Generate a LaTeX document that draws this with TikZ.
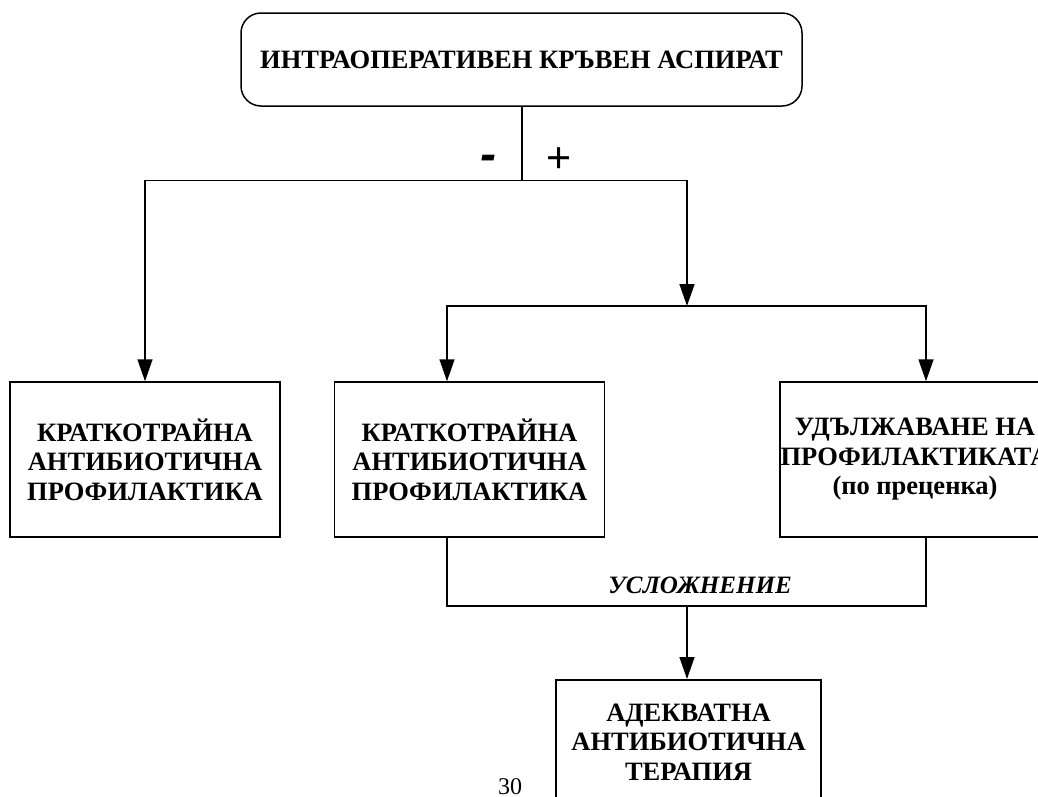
\documentclass[tikz,border=0pt]{standalone}
\usepackage{fontspec}
\setmainfont{Liberation Serif}
\newfontfamily\signfont{Liberation Sans}
\usetikzlibrary{arrows.meta,positioning}

\tikzset{
  block/.style={draw, line width=1.5pt, minimum width=270pt, minimum height=155pt,
    align=center, inner sep=0pt, font=\fontsize{26.5}{29.5}\selectfont\bfseries},
  flow/.style={line width=1.5pt},
  arr/.style={flow, -{Triangle[length=22pt,width=15pt]}},
}

\begin{document}
\begin{tikzpicture}[x=1pt, y=-1pt, line join=miter]
  \useasboundingbox (0,0) rectangle (1038,796);
  \clip (0,0) rectangle (1038,796);

  % source box
  \node[block, rounded corners=20pt, minimum width=561pt, minimum height=93pt]
        (aspirate) at (521.5,59.5) {ИНТРАОПЕРАТИВЕН КРЪВЕН АСПИРАТ};

  % outcome boxes
  \node[block] (shortneg) at (145,459.5)   {КРАТКОТРАЙНА\\АНТИБИОТИЧНА\\ПРОФИЛАКТИКА};
  \node[block] (shortpos) at (469.5,459.5) {КРАТКОТРАЙНА\\АНТИБИОТИЧНА\\ПРОФИЛАКТИКА};
  \node[block] (extend)   at (915,459.5)   {УДЪЛЖАВАНЕ НА\\ПРОФИЛАКТИКАТА\\(по преценка)};
  \node[block, anchor=north, minimum width=265pt, minimum height=0pt,
        inner ysep=24pt, text depth=80pt]
        (therapy) at (688.5,679) {АДЕКВАТНА\\АНТИБИОТИЧНА\\ТЕРАПИЯ};

  % branch points
  \coordinate (fork)  at (522,180.5);
  \coordinate (split) at (687,306);
  \coordinate (compl) at (687,606);
  \path (shortpos.north) ++(-22.5,0) coordinate (posin);
  \path (shortpos.south) ++(-22.5,0) coordinate (posout);
  \path (extend.north) ++(11,0) coordinate (extin);
  \path (extend.south) ++(11,0) coordinate (extout);

  % connectors
  \draw[flow] (aspirate.south -| fork) -- (fork);
  \draw[arr] (fork) -| (shortneg.north);
  \draw[arr] (fork) -| (split);
  \draw[arr] (split) -| (posin);
  \draw[arr] (split) -| (extin);
  \draw[flow] (posout) |- (compl) -| (extout);
  \draw[arr] (compl) -- (compl |- therapy.north);

  % labels
  \node[anchor=base, font=\signfont\bfseries\itshape\fontsize{48}{48}\selectfont] (neg) at (488,170) {-};
  \node[anchor=base, font=\signfont\fontsize{43}{43}\selectfont] (pos) at (559.5,172) {+};
  \node[anchor=base, font=\fontsize{25}{29}\selectfont\bfseries\itshape]
        (complication) at (700,593) {УСЛОЖНЕНИЕ};
  \node[anchor=base, font=\fontsize{24}{29}\selectfont] (pagenum) at (510,794) {30};
\end{tikzpicture}
\end{document}
